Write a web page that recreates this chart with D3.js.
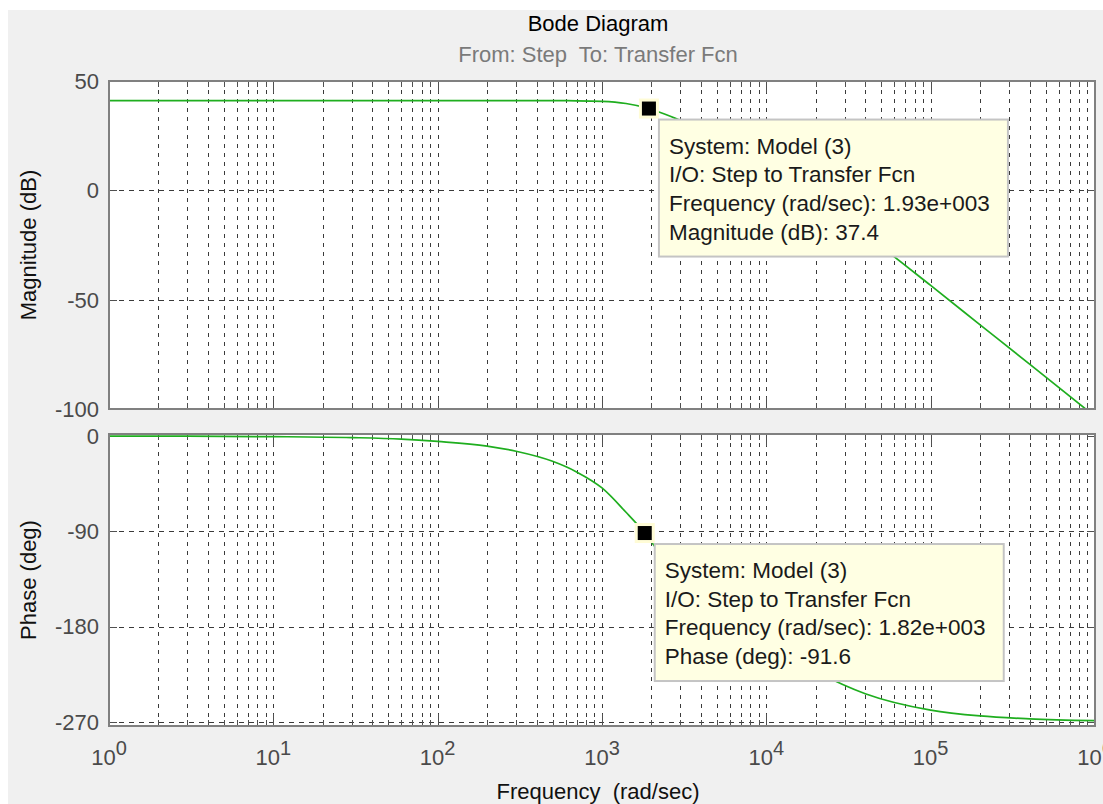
<!DOCTYPE html>
<html>
<head>
<meta charset="utf-8">
<script src="https://cdn.jsdelivr.net/npm/d3@7"></script>
<style>
body { margin: 0; background: #fff; }
text { font-family: "Liberation Sans", Arial, sans-serif; }
</style>
</head>
<body>
<div id="bode"></div>
<script>
// magnitude curve (rad/sec, dB)
var magFreq = [1, 3, 10, 30, 100, 200, 300, 500, 700, 1000, 1400, 1930, 2400, 2800, 4000, 6000, 10000, 20000, 40000, 100000, 200000, 400000, 1000000];
var magDb   = [41.0, 41.0, 41.0, 41.0, 41.0, 41.0, 41.0, 41.0, 40.95, 40.7, 39.7, 37.4, 34.9, 32.9, 27.3, 20.2, 10.6, -3.8, -20.2, -43.5, -61.5, -79.5, -103.4];

// phase curve (rad/sec, deg)
var phFreq = [1, 3, 10, 30, 60, 100, 200, 300, 500, 700, 1000, 1400, 1820, 2400, 2800, 4000, 6000, 10000, 20000, 40000, 100000, 200000, 400000, 1000000];
var phDeg  = [0, -0.1, -0.5, -1.4, -2.8, -5.0, -9.4, -14.3, -23.8, -33.8, -49.0, -72.0, -91.6, -116.8, -129.5, -153.0, -173.5, -195.5, -222.5, -243.5, -259.0, -264.5, -267.2, -268.9];

// axes ticks
var magTicks = [50, 0, -50, -100];
var phTicks = [0, -90, -180, -270];
var decades = [1, 10, 100, 1000, 10000, 100000, 1000000];

// data tips
var tipFreq = [1930, 1820];
var tipValue = [37.4, -91.6];
var tipName = ["Magnitude (dB)", "Phase (deg)"];

var W = 1103, H = 804;

var svg = d3.select("#bode").append("svg")
    .attr("width", W)
    .attr("height", H);

// figure background
svg.append("rect")
    .attr("x", 8).attr("y", 10)
    .attr("width", W - 8).attr("height", H - 10)
    .attr("fill", "#f0f0f0");

var x = d3.scaleLog().domain([1, 1e6]).range([109, 1095]);
var yMag = d3.scaleLinear().domain([-100, 50]).range([409, 81]);
var yPh = d3.scaleLinear().domain([-274, 2]).range([726, 434]);

var allTicks = x.ticks();
var inner = allTicks.filter(function(d) { return d > 1 && d < 1e6; });
var isMajor = function(d) { return decades.indexOf(d) >= 0; };

var panels = [
    {y: yMag, ticks: magTicks, fx: magFreq, fy: magDb, label: "Magnitude (dB)", id: "clipMag"},
    {y: yPh, ticks: phTicks, fx: phFreq, fy: phDeg, label: "Phase (deg)", id: "clipPh"}
];

var px = function(v) { return Math.round(v) + 0.5; };

panels.forEach(function(p) {
    var g = svg.append("g");
    var xl = x.range()[0], xr = x.range()[1];
    var yb = p.y.range()[0], yt = p.y.range()[1];

    g.append("rect")
        .attr("x", xl).attr("y", yt)
        .attr("width", xr - xl).attr("height", yb - yt)
        .attr("fill", "#fff");

    // vertical grid
    g.selectAll(".vgrid")
        .data(inner)
        .enter().append("line")
        .attr("x1", function(d) { return px(x(d)); })
        .attr("x2", function(d) { return px(x(d)); })
        .attr("y1", yt).attr("y2", yb)
        .attr("stroke", "#3a3a3a")
        .attr("stroke-width", 1)
        .attr("stroke-dasharray", "4,5")
        .attr("shape-rendering", "crispEdges");

    // horizontal grid
    g.selectAll(".hgrid")
        .data(p.ticks.filter(function(t) { return p.y(t) > yt + 3 && p.y(t) < yb - 2; }))
        .enter().append("line")
        .attr("x1", xl).attr("x2", xr)
        .attr("y1", function(d) { return px(p.y(d)); })
        .attr("y2", function(d) { return px(p.y(d)); })
        .attr("stroke", "#3a3a3a")
        .attr("stroke-width", 1)
        .attr("stroke-dasharray", "5,5")
        .attr("shape-rendering", "crispEdges");

    // x ticks, top and bottom, pointing inwards
    [yt, yb].forEach(function(edge, k) {
        var dir = k === 0 ? 1 : -1;
        g.selectAll(".xt" + k)
            .data(inner)
            .enter().append("line")
            .attr("x1", function(d) { return px(x(d)); })
            .attr("x2", function(d) { return px(x(d)); })
            .attr("y1", edge)
            .attr("y2", function(d) { return edge + dir * (isMajor(d) ? 12 : 6); })
            .attr("stroke", "#505050")
            .attr("shape-rendering", "crispEdges");
    });

    // y ticks, left and right
    [xl, xr].forEach(function(edge, k) {
        var dir = k === 0 ? 1 : -1;
        g.selectAll(".yt" + k)
            .data(p.ticks)
            .enter().append("line")
            .attr("x1", edge)
            .attr("x2", edge + dir * 8)
            .attr("y1", function(d) { return px(p.y(d)); })
            .attr("y2", function(d) { return px(p.y(d)); })
            .attr("stroke", "#505050")
            .attr("shape-rendering", "crispEdges");
    });

    // curve
    svg.append("clipPath").attr("id", p.id)
        .append("rect")
        .attr("x", xl).attr("y", yt)
        .attr("width", xr - xl).attr("height", yb - yt);

    var pts = p.fx.map(function(f, i) { return [f, p.fy[i]]; });
    g.append("path")
        .datum(pts)
        .attr("clip-path", "url(#" + p.id + ")")
        .attr("fill", "none")
        .attr("stroke", "#1fae1f")
        .attr("stroke-width", 1.7)
        .attr("d", d3.line()
            .x(function(d) { return x(d[0]); })
            .y(function(d) { return p.y(d[1]); })
            .curve(d3.curveMonotoneX));

    // border
    g.append("rect")
        .attr("x", xl).attr("y", yt)
        .attr("width", xr - xl).attr("height", yb - yt)
        .attr("fill", "none")
        .attr("stroke", "#808080")
        .attr("stroke-width", 2);

    // y tick labels
    g.selectAll(".ylab")
        .data(p.ticks)
        .enter().append("text")
        .attr("x", xl - 10)
        .attr("y", function(d) { return p.y(d); })
        .attr("dy", "0.36em")
        .attr("text-anchor", "end")
        .style("font-size", "22px")
        .attr("fill", "#4a4a4a")
        .text(function(d) { return d; });

    // y axis label
    g.append("text")
        .attr("transform", "translate(36," + ((yt + yb) / 2) + ") rotate(-90)")
        .attr("text-anchor", "middle")
        .style("font-size", "22px")
        .attr("fill", "#111")
        .text(p.label);
});

// x tick labels 10^n
var xlab = svg.selectAll(".xlab")
    .data(decades)
    .enter().append("text")
    .attr("x", function(d) { return x(d); })
    .attr("y", 765)
    .attr("text-anchor", "middle")
    .attr("fill", "#4a4a4a");
xlab.append("tspan").style("font-size", "22px").text("10");
xlab.append("tspan").style("font-size", "20px").attr("dy", -10)
    .text(function(d) { return Math.round(Math.log10(d)); });

// titles
svg.append("text")
    .attr("x", 598).attr("y", 31)
    .attr("text-anchor", "middle")
    .style("font-size", "22px")
    .attr("fill", "#000")
    .text("Bode Diagram");

svg.append("text")
    .attr("x", 598).attr("y", 62)
    .attr("text-anchor", "middle")
    .style("font-size", "22px")
    .style("white-space", "pre")
    .attr("fill", "#7a7a7a")
    .text("From: Step  To: Transfer Fcn");

svg.append("text")
    .attr("x", 598).attr("y", 799)
    .attr("text-anchor", "middle")
    .style("font-size", "22px")
    .style("white-space", "pre")
    .attr("fill", "#111")
    .text("Frequency  (rad/sec)");

// data tips
var sci = function(v) {
    var s = d3.format(".2e")(v);
    var parts = s.split("e");
    var sign = parts[1][0];
    var ex = parts[1].slice(1);
    while (ex.length < 3) ex = "0" + ex;
    return parts[0] + "e" + sign + ex;
};

panels.forEach(function(p, i) {
    var cx = x(tipFreq[i]), cy = p.y(tipValue[i]);
    var g = svg.append("g");

    g.append("rect")
        .attr("x", cx - 10).attr("y", cy - 10)
        .attr("width", 20).attr("height", 20)
        .attr("fill", "#fffcd6");
    g.append("rect")
        .attr("x", cx - 7).attr("y", cy - 7)
        .attr("width", 14).attr("height", 14)
        .attr("fill", "#000");

    var bx = cx + 10, by = cy + 11;
    g.append("rect")
        .attr("x", bx).attr("y", by)
        .attr("width", 349).attr("height", 137)
        .attr("fill", "#ffffe3")
        .attr("stroke", "#c4c4c4")
        .attr("stroke-width", 2);

    var lines = [
        "System: Model (3)",
        "I/O: Step to Transfer Fcn",
        "Frequency (rad/sec): " + sci(tipFreq[i]),
        tipName[i] + ": " + tipValue[i]
    ];
    g.selectAll(".tip")
        .data(lines)
        .enter().append("text")
        .attr("x", bx + 10)
        .attr("y", function(d, k) { return by + 34 + k * 28.7; })
        .style("font-size", "22.5px")
        .attr("fill", "#1a1a1a")
        .text(function(d) { return d; });
});
</script>
</body>
</html>
